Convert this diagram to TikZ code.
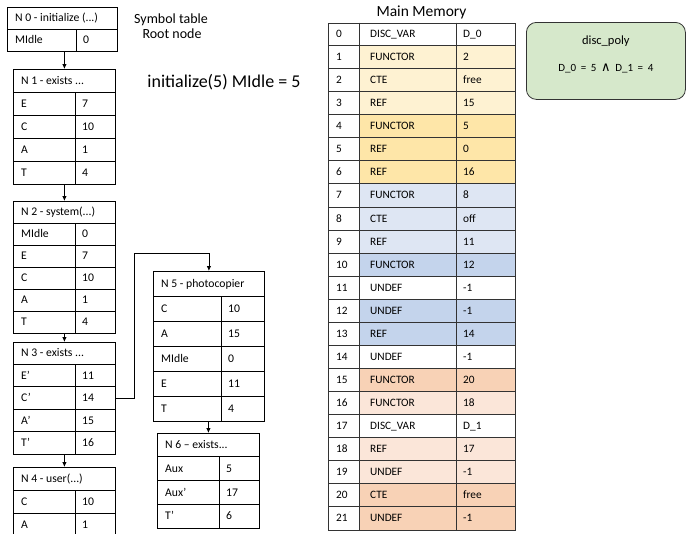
\documentclass[tikz,border=0pt]{standalone}
\usepackage{fontspec}
\setmainfont{Carlito}
\newfontfamily\djv{DejaVu Sans}
\usetikzlibrary{arrows.meta}
\definecolor{ylight}{HTML}{FEF2D2}
\definecolor{ydark}{HTML}{FEE6A8}
\definecolor{blight}{HTML}{DEE6F3}
\definecolor{bdark}{HTML}{C4D4EC}
\definecolor{sdark}{HTML}{F8D2B6}
\definecolor{slight}{HTML}{FBE6D9}
\definecolor{gfill}{HTML}{D6E8CB}
\definecolor{gridc}{HTML}{333333}
\tikzset{
  tabframe/.style={draw=black, line width=0.8pt, inner sep=0pt, anchor=north west},
  tabline/.style={draw=black, line width=0.8pt},
  celltxt/.style={anchor=west, inner sep=0pt, text height=9pt, text depth=1.6pt, font=\fontsize{11.7}{13}\selectfont},
  memtxt/.style={anchor=west, inner sep=0pt, text height=8.7pt, text depth=1.5pt, font=\fontsize{11.3}{13}\selectfont},
  arr/.style={draw=black, line width=0.8pt, -{Latex[length=5pt,width=4.5pt]}},
  memline/.style={draw=gridc, line width=0.8pt},
  freetxt/.style={anchor=base, inner sep=0pt},
}
\newcommand\symtab[9]{%
  \node[tabframe, minimum width=#4, minimum height={#6*(#8+1)}] (#1) at (#2,#3) {};
  \node[celltxt] (#1-h) at ({#2+8},{#3+#6/2}) {#7};
  \draw[tabline] ({#2+#5},{#3+#6}) -- ({#2+#5},{#3+#6*(#8+1)});
  \foreach \lab/\val [count=\i] in {#9} {
    \draw[tabline] (#2,{#3+#6*\i}) -- ({#2+#4},{#3+#6*\i});
    \node[celltxt] (#1-l\i) at ({#2+8},{#3+#6*\i+#6/2}) {\lab};
    \node[celltxt] (#1-v\i) at ({#2+#5+7},{#3+#6*\i+#6/2}) {\val};
  }%
}
\begin{document}
\begin{tikzpicture}[x=1pt,y=-1pt]
\useasboundingbox (0,0) rectangle (687,533);
\clip (0,0) rectangle (687,533);
% symbol tables
\symtab{n0}{7}{7}{110}{69}{22}{N 0 - initialize (...)}{1}{MIdle/0}
\symtab{n1}{13}{69}{102}{62}{23}{N 1 - exists ...}{4}{E/7,C/10,A/1,T/4}
\symtab{n2}{13}{201}{102}{62}{22}{N 2 - system(...)}{5}{MIdle/0,E/7,C/10,A/1,T/4}
\symtab{n3}{13}{342}{102}{62}{22.4}{N 3 - exists ...}{4}{E’/11,C’/14,A’/15,T’/16}
\symtab{n4}{13}{467}{102}{62}{23}{N 4 - user(...)}{2}{C/10,A/1}
\symtab{n5}{153}{271}{111}{68}{25}{N 5 - photocopier}{5}{C/10,A/15,MIdle/0,E/11,T/4}
\symtab{n6}{157}{433}{102}{62}{23.75}{N 6 – exists...}{3}{Aux/5,Aux’/17,T’/6}
% connectors
\draw[arr] (n0.south -| n1.north) -- (n1.north);
\draw[arr] (n1.south) -- (n2.north);
\draw[arr] (n2.south) -- (n3.north);
\draw[arr] (n3.south) -- (n4.north);
\draw[arr] (n5.south -| n6.north) -- (n6.north);
\coordinate (kink) at (134,253);
\draw[arr] (n3.east |- n3-l2) -| (kink) -| (n5.north);
% labels
\node[freetxt, font=\fontsize{14}{15}\selectfont] (symlbl) at (171,23.5) {Symbol table};
\node[freetxt, font=\fontsize{14}{15}\selectfont] (rootlbl) at (172,38.5) {Root node};
\node[freetxt, font=\fontsize{18}{20}\selectfont] (headline) at (224,87) {initialize(5) MIdle = 5};
% main memory
\node[freetxt, font=\fontsize{15.5}{18}\selectfont] (mmtitle) at (421.5,16.5) {Main Memory};
\foreach \ty/\va/\c [count=\i from 0] in {DISC\_VAR/D\_0/white, FUNCTOR/2/ylight, CTE/free/ylight, REF/15/ylight, FUNCTOR/5/ydark, REF/0/ydark, REF/16/ydark, FUNCTOR/8/blight, CTE/off/blight, REF/11/blight, FUNCTOR/12/bdark, UNDEF/-1/white, UNDEF/-1/bdark, REF/14/bdark, UNDEF/-1/white, FUNCTOR/20/sdark, FUNCTOR/18/slight, DISC\_VAR/D\_1/white, REF/17/slight, UNDEF/-1/slight, CTE/free/sdark, UNDEF/-1/sdark} {
  \pgfmathsetmacro\top{22.5+23.05*\i}
  \fill[\c] (359,\top) rectangle (515,\top+23.05);
}
\node[draw=gridc, line width=0.8pt, inner sep=0pt, anchor=north west, minimum width=187, minimum height=507.1] (mem) at (328,22.5) {};
\draw[memline] (359,22.5) -- (359,529.6);
\draw[memline] (456,22.5) -- (456,529.6);
\foreach \ty/\va [count=\i from 0] in {DISC\_VAR/D\_0, FUNCTOR/2, CTE/free, REF/15, FUNCTOR/5, REF/0, REF/16, FUNCTOR/8, CTE/off, REF/11, FUNCTOR/12, UNDEF/-1, UNDEF/-1, REF/14, UNDEF/-1, FUNCTOR/20, FUNCTOR/18, DISC\_VAR/D\_1, REF/17, UNDEF/-1, CTE/free, UNDEF/-1} {
  \pgfmathsetmacro\top{22.5+23.05*\i}
  \ifnum\i>0 \draw[memline] (328,\top) -- (515,\top); \fi
  \node[memtxt] (m\i-n) at (336,\top+11.5) {\i};
  \node[memtxt] (m\i-t) at (370,\top+11.5) {\ty};
  \node[memtxt] (m\i-v) at (463,\top+11.5) {\va};
}
% disc_poly
\node[draw=gridc, line width=0.8pt, fill=gfill, rounded corners=10pt, inner sep=0pt, anchor=north west, minimum width=159, minimum height=77] (poly) at (526,22) {};
\node[freetxt, font=\fontsize{12.5}{14}\selectfont] (polyt) at (poly.north |- 0,44.3) {disc\_poly};
\node[freetxt, font=\fontsize{11}{12}\selectfont] (polyf) at (poly.north |- 0,71.5) {\spaceskip=4.6pt D\_0 = 5 {\djv\fontsize{13}{14}\selectfont ∧} D\_1 = 4};
\end{tikzpicture}
\end{document}
